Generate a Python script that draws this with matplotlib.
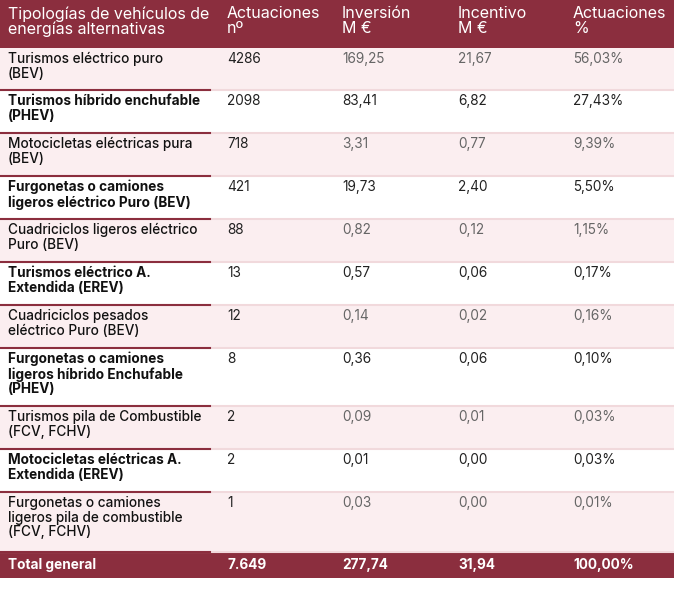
import matplotlib
matplotlib.use("Agg")
import matplotlib.pyplot as plt
from matplotlib.patches import Rectangle

headers = ["Tipologías de vehículos de\nenergías alternativas", "Actuaciones\nnº", "Inversión\nM €", "Incentivo\nM €", "Actuaciones\n%"]
categories = ["Turismos eléctrico puro\n(BEV)", "Turismos híbrido enchufable\n(PHEV)",
              "Motocicletas eléctricas pura\n(BEV)", "Furgonetas o camiones\nligeros eléctrico Puro (BEV)",
              "Cuadriciclos ligeros eléctrico\nPuro (BEV)", "Turismos eléctrico A.\nExtendida (EREV)",
              "Cuadriciclos pesados\neléctrico Puro (BEV)", "Furgonetas o camiones\nligeros híbrido Enchufable\n(PHEV)",
              "Turismos pila de Combustible\n(FCV, FCHV)", "Motocicletas eléctricas A.\nExtendida (EREV)",
              "Furgonetas o camiones\nligeros pila de combustible\n(FCV, FCHV)"]
actuaciones = ["4286", "2098", "718", "421", "88", "13", "12", "8", "2", "2", "1"]
inversion = ["169,25", "83,41", "3,31", "19,73", "0,82", "0,57", "0,14", "0,36", "0,09", "0,01", "0,03"]
incentivo = ["21,67", "6,82", "0,77", "2,40", "0,12", "0,06", "0,02", "0,06", "0,01", "0,00", "0,00"]
porcentaje = ["56,03%", "27,43%", "9,39%", "5,50%", "1,15%", "0,17%", "0,16%", "0,10%", "0,03%", "0,03%", "0,01%"]
total = ["Total general", "7.649", "277,74", "31,94", "100,00%"]

W, H = 674, 591
fig = plt.figure(figsize=(W/100, H/100), dpi=100)
ax = fig.add_axes([0, 0, 1, 1])
ax.set_xlim(0, W); ax.set_ylim(H, 0); ax.axis("off")

RED = "#8b2e3e"; PINK = "#fbeef0"; LINE = "#f1d9dc"
FONT = "Inter"
colx = [8, 227, 342, 458, 573]
bounds = [48, 90, 133, 176, 219, 262, 305, 348, 406, 449, 492, 552]

ax.add_patch(Rectangle((0, 0), W, 48, color=RED, lw=0))
for j, h in enumerate(headers):
    ax.text(colx[j], 6, h, fontsize=11.5, color="white", va="top", family=FONT, linespacing=1.0)

for i in range(len(categories)):
    y0, y1 = bounds[i], bounds[i+1]
    odd = i % 2 == 0
    if odd:
        ax.add_patch(Rectangle((0, y0), W, y1 - y0, color=PINK, lw=0))
    ax.plot([0, W], [y1, y1], color=LINE, lw=1.5)
    ax.plot([0, 210], [y1, y1], color=RED, lw=1.5)
    vals = [actuaciones[i], inversion[i], incentivo[i], porcentaje[i]]
    ax.text(colx[0], y0 + 4, categories[i], fontsize=9.8, va="top", family=FONT,
            color="#111111", weight="bold" if not odd else "medium", linespacing=1.05)
    for j, v in enumerate(vals):
        c = "#222222" if (not odd or j == 0) else "#666666"
        ax.text(colx[j+1], y0 + 4, v, fontsize=9.8, va="top", family=FONT, color=c)

ax.add_patch(Rectangle((0, 552), W, 26, color=RED, lw=0))
for j, t in enumerate(total):
    ax.text(colx[j], 565, t, fontsize=9.8, va="center", family=FONT, color="white", weight="bold")

fig.savefig("out.png", dpi=100)
